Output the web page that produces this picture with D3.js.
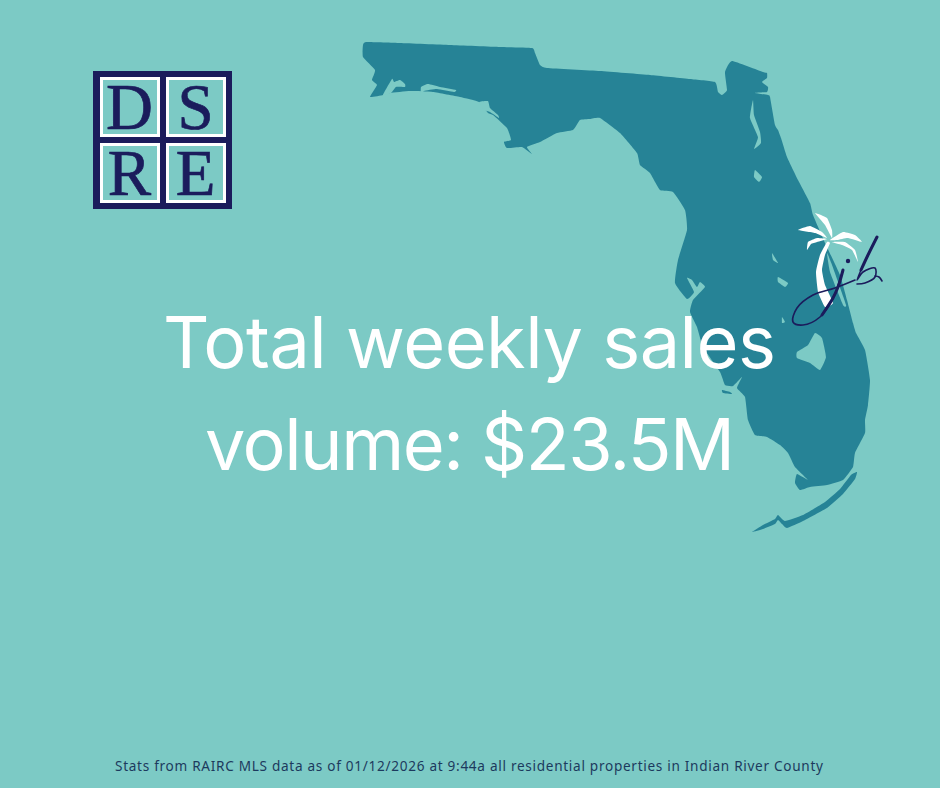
<!DOCTYPE html>
<html>
<head>
<meta charset="utf-8">
<script src="https://cdn.jsdelivr.net/npm/d3@7"></script>
<style>
  html, body { margin: 0; padding: 0; background: #7ccac5; }
  svg { display: block; }
</style>
</head>
<body>
<svg id="chart" width="940" height="788"></svg>
<script>
const headlineLines = ['Total weekly sales', 'volume: $23.5M'];
const footnote = 'Stats from RAIRC MLS data as of 01/12/2026 at 9:44a all residential properties in Indian River County';
const logoLetters = [['D', 'S'], ['R', 'E']];

// clockwise from the panhandle
const mainland = [
  [366, 42], [400, 43], [450, 45], [500, 47], [532, 48], [535, 53], [540, 65], [547, 68], [600, 71], [650, 75],
  [690, 79], [715, 82], [718, 92], [722, 95], [727, 90], [725, 72], [732, 61], [763, 72], [767, 73], [767, 78],
  [762, 82], [768, 87], [767, 92], [755, 93], [768, 95], [770, 97], [775, 125], [778, 130], [781, 138], [787, 157],
  [798, 180], [810, 203], [813, 215], [826, 245], [840, 275], [847, 300], [853, 323], [856, 333], [865, 350], [870, 380], [868, 405],
  [865, 420], [865, 433], [855, 453], [853, 467], [843, 480], [827, 485], [810, 487], [800, 490], [795, 483],
  [797, 474], [808, 480], [795, 467], [788, 453], [780, 445], [767, 437], [755, 435], [748, 420], [745, 397],
  [737, 388], [742, 377], [733, 386], [725, 385], [720, 372], [703, 347], [697, 327], [690, 312], [693, 300],
  [705, 287], [700, 282], [697, 287], [692, 280], [687, 278], [694, 292], [687, 299], [675, 283], [678, 260],
  [687, 230], [685, 210], [673, 192], [660, 190], [650, 173], [640, 165], [637, 153], [620, 133], [600, 118],
  [590, 119], [580, 120], [573, 130], [557, 133], [540, 142], [527, 147], [532, 154], [522, 147], [507, 148], [504, 142],
  [511, 140], [507, 128], [493, 115], [488, 113], [479, 102], [460, 97], [433, 92], [410, 91], [390, 93], [383, 95], [370, 97],
  [377, 85], [372, 80], [375, 70], [363, 57], [363, 45]
];
const keys = [
  [857, 472], [855, 479], [843, 494], [827, 508], [803, 521], [787, 528], [782, 524], [778, 520], [775, 524],
  [763, 529], [752, 532], [763, 525], [775, 519], [778, 515], [785, 521], [803, 515], [825, 502], [840, 489], [851, 475]
];
const sanibel = [[722, 390], [730, 392], [732, 394], [723, 393]];

// water cut out of the land
const lakeOkeechobee = [[815, 333], [822, 338], [826, 357], [820, 370], [810, 363], [797, 358], [797, 352], [808, 345]];
const stJohns = [[753, 100], [750, 118], [758, 137], [754, 149], [761, 143], [760, 132], [754, 115]];
const lakeGeorge = [[755, 170], [762, 177], [759, 182], [754, 177]];
const lakeTohopekaliga = [[772, 253], [778, 263], [773, 260]];
const lakeKissimmee = [[778, 277], [788, 283], [785, 287], [778, 282]];
const lakeIstokpoga = [[782, 317], [785, 322], [782, 323]];
const choctawhatchee = [[421, 95], [421, 87], [428, 84], [440, 87], [456, 90], [454, 92], [437, 89], [424, 91]];
const pensacolaBay = [[383, 95], [392, 79], [394, 82], [400, 80], [405, 84], [405, 87], [396, 87], [391, 93]];
const apalachicolaBay = [[479, 102], [488, 101], [490, 108], [498, 115], [499, 118], [490, 112], [484, 110]];
const indianRiver = [[827, 253], [832, 265], [846, 305], [843, 305], [830, 272]];

const palmFronds = [
  [[815, 213], [827, 218], [832, 230], [832, 238], [825, 225]],
  [[798, 230], [810, 226], [822, 232], [827, 238], [815, 233]],
  [[807, 250], [808, 242], [817, 238], [827, 239], [817, 242], [811, 244]],
  [[830, 240], [843, 232], [855, 235], [862, 242], [848, 238], [837, 240]],
  [[832, 242], [845, 242], [855, 250], [858, 262], [852, 250], [842, 245]]
];
const palmTrunk = [
  [827, 242], [820, 255], [816, 272], [818, 292], [825, 307], [833, 303], [825, 285], [822, 270], [825, 255], [830, 243]
];
const initialJ = [
  [843, 270], [833, 298], [820, 317], [803, 325], [793, 322], [797, 308], [813, 295], [835, 288], [855, 280]
];
const initialJHeavy = [[843, 270], [838, 287], [833, 298], [822, 315]];
const initialB = [
  [877, 237], [868, 255], [857, 280], [863, 272], [875, 268], [875, 277], [865, 283], [857, 284]
];
const initialBHeavy = [[877, 237], [868, 255], [861, 270]];
const initialBTail = [[875, 276], [879, 277], [882, 281]];

const teal = '#7ccac5';
const land = '#268396';
const navy = '#1b1c5c';

const svg = d3.select('#chart');

// the map traces are already in page pixels
const x = d3.scaleIdentity();
const y = d3.scaleIdentity();
const shape = d3.line().x(d => x(d[0])).y(d => y(d[1])).curve(d3.curveCardinalClosed.tension(0.6));
const stroke = d3.line().x(d => x(d[0])).y(d => y(d[1])).curve(d3.curveCatmullRom.alpha(0.5));

svg.append('rect').attr('width', 940).attr('height', 788).attr('fill', teal);

const map = svg.append('g');
map.selectAll('path.land')
  .data([mainland, keys, sanibel])
  .join('path')
  .attr('class', 'land')
  .attr('d', shape)
  .attr('fill', land);

map.selectAll('path.water')
  .data([lakeOkeechobee, stJohns, lakeGeorge, lakeTohopekaliga, lakeKissimmee, lakeIstokpoga,
    choctawhatchee, pensacolaBay, apalachicolaBay, indianRiver])
  .join('path')
  .attr('class', 'water')
  .attr('d', shape)
  .attr('fill', teal);

// jb palm mark
const mark = svg.append('g');
mark.selectAll('path.palm')
  .data([...palmFronds, palmTrunk])
  .join('path')
  .attr('class', 'palm')
  .attr('d', shape)
  .attr('fill', '#fff');

mark.selectAll('path.initial')
  .data([initialJ, initialB, initialBTail])
  .join('path')
  .attr('class', 'initial')
  .attr('d', stroke)
  .attr('fill', 'none')
  .attr('stroke', navy)
  .attr('stroke-width', 1.6)
  .attr('stroke-linecap', 'round');

mark.selectAll('path.heavy')
  .data([initialJHeavy, initialBHeavy])
  .join('path')
  .attr('class', 'heavy')
  .attr('d', stroke)
  .attr('fill', 'none')
  .attr('stroke', navy)
  .attr('stroke-width', 3)
  .attr('stroke-linecap', 'round');

mark.append('circle').attr('cx', x(848)).attr('cy', y(261)).attr('r', 2.2).attr('fill', navy);

// DSRE logo
const logo = svg.append('g');
logo.append('rect').attr('x', 93).attr('y', 71).attr('width', 139).attr('height', 138).attr('fill', navy);

const col = d3.scaleOrdinal().domain([0, 1]).range([100, 166]);
const row = d3.scaleOrdinal().domain([0, 1]).range([77, 143]);
const cells = logoLetters.flatMap((letters, r) => letters.map((letter, c) => ({ letter, r, c })));

const cell = logo.selectAll('g.cell')
  .data(cells)
  .join('g')
  .attr('class', 'cell')
  .attr('transform', d => `translate(${col(d.c)},${row(d.r)})`);

cell.append('rect')
  .attr('x', 1.5).attr('y', 1.5)
  .attr('width', 57).attr('height', 57)
  .attr('fill', teal)
  .attr('stroke', '#fff')
  .attr('stroke-width', 3);

cell.append('text')
  .attr('x', 29.5)
  .attr('y', 51.5)
  .attr('text-anchor', 'middle')
  .attr('font-family', '"Liberation Serif", serif')
  .attr('font-size', 65)
  .attr('fill', navy)
  .attr('stroke', navy)
  .attr('stroke-width', 0.7)
  .text(d => d.letter);

// headline
const headlineY = [368, 470];
const headlineX = [163, 205];
const headlineW = [613, 530];
svg.selectAll('text.headline')
  .data(headlineLines)
  .join('text')
  .attr('class', 'headline')
  .attr('x', (d, i) => headlineX[i])
  .attr('y', (d, i) => headlineY[i])
  .attr('textLength', (d, i) => headlineW[i])
  .attr('lengthAdjust', 'spacing')
  .attr('font-family', 'Inter, sans-serif')
  .attr('font-weight', 400)
  .attr('font-size', 72)
  .attr('fill', '#fff')
  .text(d => d);

svg.append('text')
  .attr('x', 115)
  .attr('y', 771)
  .attr('textLength', 708)
  .attr('lengthAdjust', 'spacing')
  .attr('font-family', '"Noto Sans", sans-serif')
  .attr('font-size', 13.6)
  .attr('fill', '#1c3a5e')
  .text(footnote);
</script>
</body>
</html>
